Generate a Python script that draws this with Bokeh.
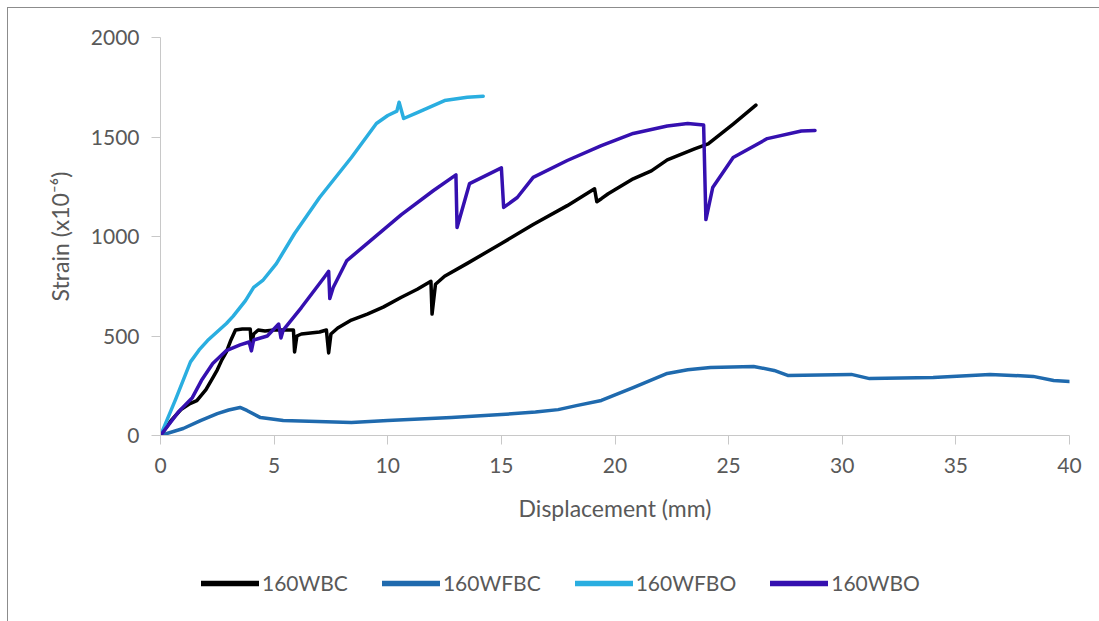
from bokeh.plotting import figure
from bokeh.models import Legend, LegendItem, Range1d, FixedTicker
from bokeh.layouts import column
from bokeh.embed import file_html
from bokeh.resources import INLINE

# ---- data ----
wbc_x = [0, 0.5, 0.9, 1.3, 1.6, 2.0, 2.3, 2.5, 2.7, 2.9, 3.1, 3.3, 3.6, 3.95, 4.0, 4.1, 4.3, 4.6, 5.0, 5.5,
         5.85, 5.9, 6.0, 6.2, 6.6, 7.0, 7.3, 7.4, 7.5, 7.8, 8.4, 9.1, 9.8, 10.6, 11.3, 11.9, 11.95, 12.1,
         12.5, 13.5, 15.0, 16.4, 17.9, 19.1, 19.2, 19.4, 19.7, 20.8, 21.6, 22.3, 23.5, 24.1, 25.2, 26.2]
wbc_y = [0, 80, 130, 160, 175, 230, 290, 330, 380, 420, 480, 530, 535, 535, 450, 510, 530, 525, 530, 530,
         530, 420, 500, 510, 515, 520, 530, 415, 510, 540, 580, 610, 645, 695, 735, 775, 610, 760,
         800, 865, 965, 1060, 1155, 1240, 1175, 1190, 1215, 1290, 1330, 1385, 1440, 1465, 1565, 1660]

wfbc_x = [0, 1.0, 1.76, 2.5, 3.0, 3.5, 3.8, 4.4, 5.4, 8.4, 10, 12.8, 15, 16.5, 17.5, 18.3, 19.4, 20.8,
          22.3, 23.2, 24.2, 26.1, 27.0, 27.6, 30.4, 31.2, 34.0, 36.5, 38.4, 39.3, 40.0]
wfbc_y = [0, 35, 75, 110, 128, 141, 126, 90, 75, 65, 75, 90, 105, 118, 130, 150, 176, 241,
          312, 330, 342, 347, 327, 302, 307, 286, 291, 307, 297, 276, 271]

wfbo_x = [0, 0.66, 1.32, 1.7, 2.07, 2.9, 3.2, 3.74, 4.1, 4.5, 5.1, 5.9, 7.0, 8.4, 9.5, 10.0, 10.4,
          10.5, 10.7, 11.3, 12.5, 13.5, 14.2]
wfbo_y = [0, 180, 370, 430, 477, 563, 600, 678, 744, 779, 864, 1015, 1196, 1397, 1568, 1608, 1630,
          1675, 1593, 1623, 1683, 1700, 1705]

wbo_x = [0, 0.8, 1.4, 1.8, 2.3, 2.9, 3.5, 3.9, 4.0, 4.1, 4.7, 5.2, 5.3, 5.4, 6.2, 7.2, 7.4, 7.45, 7.6,
         8.2, 9.1, 10.6, 12.0, 13.0, 13.05, 13.6, 15.0, 15.1, 15.7, 16.4, 17.9, 19.4, 20.8, 22.3, 23.2,
         23.9, 24.0, 24.3, 25.2, 26.7, 28.2, 28.8]
wbo_y = [0, 120, 190, 276, 362, 427, 455, 470, 425, 480, 500, 560, 490, 530, 643, 794, 825, 688, 744,
         879, 965, 1110, 1230, 1310, 1045, 1266, 1345, 1146, 1196, 1297, 1382, 1457, 1518, 1555, 1568,
         1560, 1085, 1246, 1397, 1492, 1530, 1533]

series_names = ["160WBC", "160WFBC", "160WFBO", "160WBO"]
series_colors = ["#000000", "#1F6AAE", "#2AAEE0", "#3510B0"]
x_ticks = [0, 5, 10, 15, 20, 25, 30, 35, 40]
y_ticks = [0, 500, 1000, 1500, 2000]

FONT = "Lato"
TXT = "#595959"

W = 1091
OX, OY = 8, 8          # page offset of the chart area
H1 = 553 - OY          # main figure height
H2 = 621 - 553         # legend strip height

p = figure(width=W, height=H1, output_backend="svg", toolbar_location=None,
           x_range=Range1d(0, 40), y_range=Range1d(0, 2000),
           min_border_left=160 - OX, min_border_right=(OX + W) - 1069,
           min_border_top=37 - OY, min_border_bottom=(OY + H1) - 435)
p.outline_line_color = None
p.xgrid.visible = False
p.ygrid.visible = False

for ax, ticks in ((p.xaxis, x_ticks), (p.yaxis, y_ticks)):
    ax.ticker = FixedTicker(ticks=ticks)
    ax.axis_line_color = "#c8c8c8"
    ax.major_tick_line_color = "#c8c8c8"
    ax.major_tick_out = 9
    ax.major_tick_in = 0
    ax.minor_tick_line_color = None
    ax.major_label_text_font = FONT
    ax.major_label_text_font_size = "21px"
    ax.major_label_text_color = TXT
    ax.axis_label_text_font = FONT
    ax.axis_label_text_font_style = "normal"
    ax.axis_label_text_color = TXT
    ax.axis_label_text_font_size = "23px"

p.xaxis.axis_label = "Displacement (mm)"
p.yaxis.axis_label = "Strain (x10\u207b\u2076)"
p.xaxis.major_label_standoff = 13
p.yaxis.major_label_standoff = 12
p.xaxis.axis_label_standoff = 18
p.yaxis.axis_label_standoff = 14

data = [(wbc_x, wbc_y), (wfbc_x, wfbc_y), (wfbo_x, wfbo_y), (wbo_x, wbo_y)]
for (xs, ys), c in zip(data, series_colors):
    p.line(xs, ys, line_color=c, line_width=3.5, line_join="round", line_cap="round")

# legend strip: same series drawn with ranges that keep them out of view,
# only their legend swatches are visible
q = figure(width=W, height=H2, output_backend="svg", toolbar_location=None,
           x_range=Range1d(0, 40), y_range=Range1d(-20, -10),
           x_axis_location=None, y_axis_location=None,
           min_border_left=0, min_border_right=0, min_border_top=0, min_border_bottom=0)
q.outline_line_color = None
q.xgrid.visible = False
q.ygrid.visible = False

items = []
for (xs, ys), name, c in zip(data, series_names, series_colors):
    r = q.line(xs, ys, line_color=c, line_width=5.5, line_cap="round")
    items.append(LegendItem(label=name, renderers=[r]))

legend = Legend(items=items, orientation="horizontal", location=(201 - 160, 621 - 595),
                glyph_width=58, glyph_height=24, label_standoff=3, spacing=34, padding=0,
                margin=0, border_line_color=None, background_fill_alpha=0,
                label_text_font=FONT, label_text_font_size="21px", label_text_color=TXT)
q.add_layout(legend, "center")

layout = column(p, q, spacing=0,
                styles={"margin-left": "7px", "margin-top": "7px",
                        "border-left": "1px solid #8c8c8c", "border-top": "1px solid #8c8c8c"})

open("out.html", "w").write(file_html(layout, INLINE))
